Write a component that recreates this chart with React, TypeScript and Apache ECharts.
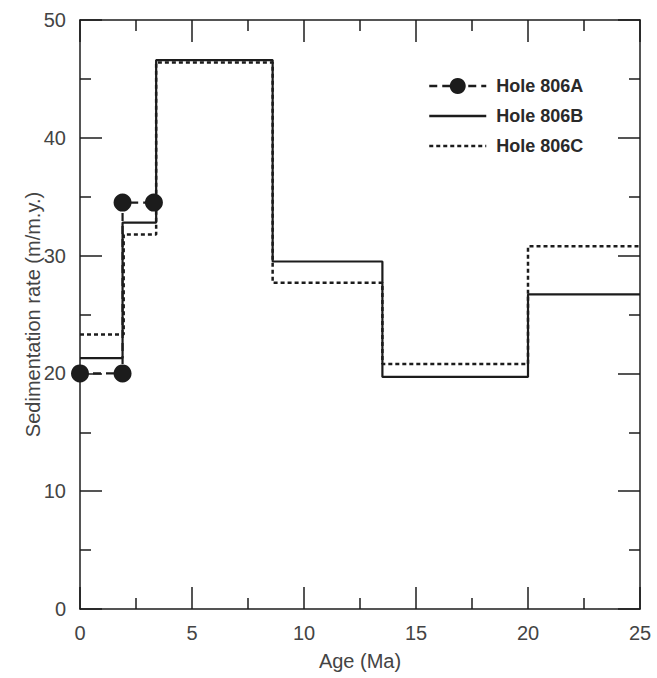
import React, { useEffect, useRef } from 'react';
import * as echarts from 'echarts';

// Tick values
const xTicks = [0, 5, 10, 15, 20, 25];
const yTicks = [0, 10, 20, 30, 40, 50];

// Hole 806A (points)
const ageA = [0, 1.9, 1.9, 3.3];
const rateA = [20, 20, 34.5, 34.5];

// Hole 806B (step boundaries and rates)
const edgesB = [0, 1.9, 3.4, 8.6, 13.5, 20, 25];
const rateB = [21.3, 32.8, 46.6, 29.5, 19.7, 26.7];

// Hole 806C (step boundaries and rates)
const edgesC = [0, 1.95, 3.4, 8.6, 13.5, 20, 25];
const rateC = [23.3, 31.8, 46.4, 27.7, 20.8, 30.8];

const FONT = 'Liberation Sans, Arial, Helvetica, sans-serif';
const INK = '#1c1c1c';

function stepData(edges: number[], rates: number[]) {
  return edges.map((x, i) => [x, rates[Math.min(i, rates.length - 1)]]);
}

export default function App() {
  const ref = useRef<HTMLDivElement>(null);
  useEffect(() => {
    if (!ref.current) return;
    const chart = echarts.init(ref.current, undefined, { renderer: 'svg' });
    const axisLine = { show: true, onZero: false, lineStyle: { color: INK, width: 1.5 } };
    const tick = { show: true, inside: true, length: 22, lineStyle: { color: INK, width: 1.5 } };
    const minor = { show: true, splitNumber: 2, length: 11, lineStyle: { color: INK, width: 1.5 } };
    const xBase = {
      type: 'value', min: xTicks[0], max: xTicks[xTicks.length - 1], interval: 5,
      axisLine, axisTick: tick, minorTick: minor, splitLine: { show: false }, minorSplitLine: { show: false },
    };
    const yBase = {
      type: 'value', min: yTicks[0], max: yTicks[yTicks.length - 1], interval: 10,
      axisLine, axisTick: tick, minorTick: minor, splitLine: { show: false }, minorSplitLine: { show: false },
    };
    chart.setOption({
      animation: false,
      backgroundColor: '#ffffff',
      grid: { left: 80, right: 17, top: 20, bottom: 69, containLabel: false },
      legend: {
        orient: 'vertical', left: 428, top: 77, padding: 0, itemWidth: 57, itemHeight: 20, itemGap: 12,
        lineStyle: { width: 2.5 },
        textStyle: { fontFamily: FONT, fontSize: 18, fontWeight: 'bold', color: '#2a2a2a', padding: [0, 0, 0, 5] },
        data: ['Hole 806A', 'Hole 806B', 'Hole 806C'],
      },
      xAxis: [
        {
          ...xBase, position: 'bottom', name: 'Age (Ma)', nameLocation: 'middle', nameGap: 42,
          nameMoveOverlap: false,
          nameTextStyle: { fontFamily: FONT, fontSize: 20, color: '#444' },
          axisLabel: { show: true, fontFamily: FONT, fontSize: 20, color: '#444', margin: 14 },
        },
        { ...xBase, position: 'top', axisLabel: { show: false } },
      ],
      yAxis: [
        {
          ...yBase, position: 'left', name: 'Sedimentation rate (m/m.y.)', nameLocation: 'middle', nameGap: 37,
          nameMoveOverlap: false,
          nameTextStyle: { fontFamily: FONT, fontSize: 20, color: '#444' },
          axisLabel: { show: true, fontFamily: FONT, fontSize: 20, color: '#444', margin: 14 },
        },
        { ...yBase, position: 'right', axisLabel: { show: false } },
      ],
      series: [
        {
          name: 'Hole 806C', type: 'line', step: 'end', symbol: 'none', z: 2,
          data: stepData(edgesC, rateC),
          lineStyle: { color: INK, width: 2.5, type: [4, 3] }, itemStyle: { color: 'transparent', borderWidth: 0 },
        },
        {
          name: 'Hole 806B', type: 'line', step: 'end', symbol: 'none', z: 3,
          data: stepData(edgesB, rateB),
          lineStyle: { color: INK, width: 2.2 }, itemStyle: { color: 'transparent', borderWidth: 0 },
        },
        {
          name: 'Hole 806A', type: 'line', symbol: 'circle', symbolSize: 18, z: 4,
          data: ageA.map((x, i) => [x, rateA[i]]),
          lineStyle: { color: INK, width: 2.2, type: [8, 5] }, itemStyle: { color: INK },
        },
      ],
    });
    return () => chart.dispose();
  }, []);
  return <div ref={ref} style={{ position: 'fixed', left: 0, top: 0, width: 657, height: 678 }} />;
}
